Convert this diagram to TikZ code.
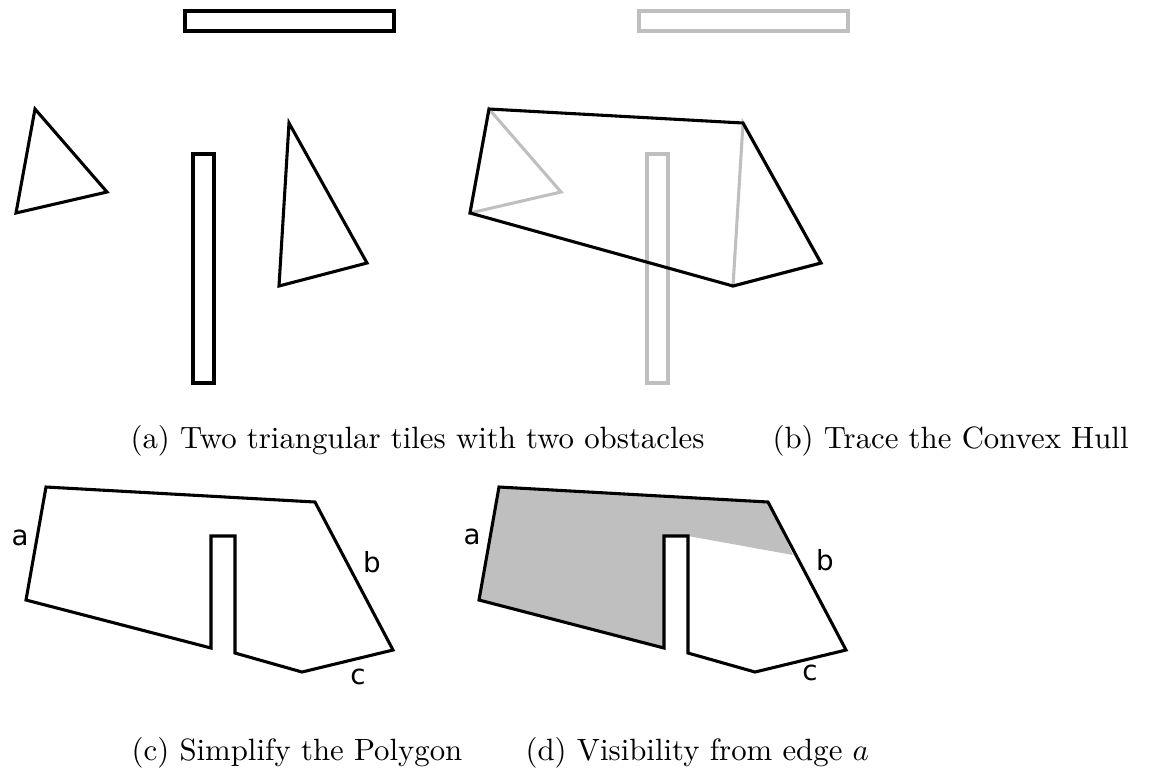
\documentclass[tikz,border=0pt]{standalone}
\usepackage{fontspec}
\newfontfamily\lblfont{DejaVu Sans}
\begin{document}
\begin{tikzpicture}[
  x=0.3247pt, y=-0.3247pt,
  ink/.style={draw=black, line width=1pt},
  ghost/.style={draw=black!25, line width=1pt},
  seen/.style={fill=black!25},
  edgelbl/.style={font=\lblfont\small, inner sep=0pt},
  subcap/.style={anchor=base west, inner sep=0pt}
]
\useasboundingbox (0,0) rectangle (1151,769);

% (a) tiles and obstacles
\draw[ink] (185,11) rectangle (394,31);
\draw[ink] (193,154) rectangle (214,383);
\draw[ink] (35,109) -- (107,192) -- (16,213) -- cycle;
\draw[ink] (289,123) -- (367,263) -- (279,286) -- cycle;

% (b) convex hull
\begin{scope}[shift={(454,0)}]
\draw[ghost] (185,11) rectangle (394,31);
\draw[ghost] (193,154) rectangle (214,383);
\draw[ghost] (35,109) -- (107,192) -- (16,213) -- cycle;
\draw[ghost] (289,123) -- (367,263) -- (279,286) -- cycle;
\draw[ink] (35,109) -- (289,123) -- (367,263) -- (279,286) -- (16,213) -- cycle;
\end{scope}

% (c) simplified polygon
\draw[ink] (46,487) -- (315,502) -- (393,650) -- (302,672) -- (235,653)
  -- (235,536) -- (211,536) -- (211,648) -- (26,600) -- cycle;
\node[edgelbl] (ca) at (20,538) {a};
\node[edgelbl] (cb) at (372,562) {b};
\node[edgelbl] (cc) at (358,677) {c};

% (d) visible part
\begin{scope}[shift={(453,0)}]
\fill[seen] (46,487) -- (315,502) -- (340,555) -- (235,536) -- (211,536)
  -- (211,648) -- (26,600) -- cycle;
\draw[ink] (46,487) -- (315,502) -- (393,650) -- (302,672) -- (235,653)
  -- (235,536) -- (211,536) -- (211,648) -- (26,600) -- cycle;
\node[edgelbl] (da) at (19,537) {a};
\node[edgelbl] (db) at (372,560) {b};
\node[edgelbl] (dc) at (357,673) {c};
\end{scope}

\node[subcap] (capa) at (130,448) {(a) Two triangular tiles with two obstacles};
\node[subcap] (capb) at (772,448) {(b) Trace the Convex Hull};
\node[subcap] (capc) at (131,760) {(c) Simplify the Polygon};
\node[subcap] (capd) at (525,760) {(d) Visibility from edge $a$};
\end{tikzpicture}
\end{document}
